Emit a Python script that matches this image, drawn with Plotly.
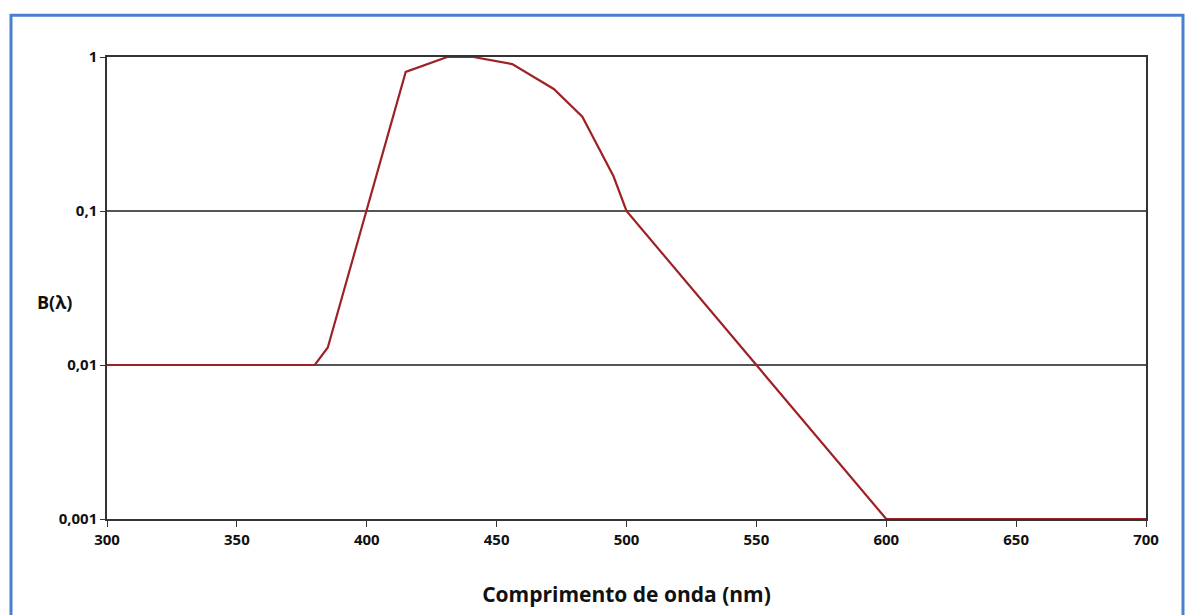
import plotly.graph_objects as go

wavelength = [300, 380, 385, 415, 431, 441, 456, 472, 483, 495, 500, 600, 700]
b_values = [0.01, 0.01, 0.013, 0.8, 1.0, 1.0, 0.9, 0.62, 0.41, 0.168, 0.1, 0.001, 0.001]

x_ticks = [300, 350, 400, 450, 500, 550, 600, 650, 700]
y_ticks = [0.001, 0.01, 0.1, 1]
y_tick_text = ["0,001", "0,01", "0,1", "1"]

FONT = "Open Sans"

fig = go.Figure()
fig.add_trace(go.Scatter(
    x=wavelength, y=b_values, mode="lines",
    line=dict(color="#9e2225", width=2.2),
    cliponaxis=False, showlegend=False, hoverinfo="skip",
))

L, R, T, B = 107, 41, 57, 94
W, H = 1187, 615
pw, ph = W - L - R, H - T - B

fig.update_layout(
    width=W, height=H,
    margin=dict(l=L, r=R, t=T, b=B),
    paper_bgcolor="white", plot_bgcolor="white",
    font=dict(family=FONT, color="#1a1a1a"),
    xaxis=dict(
        range=[300, 700], tickvals=x_ticks, ticks="outside", ticklen=6,
        tickwidth=1.2, tickcolor="#333", showline=True, linecolor="#333",
        linewidth=1.5, mirror=True, showgrid=False, zeroline=False,
        tickfont=dict(family=FONT, size=15, color="#111", weight="bold"),
        title=dict(text="<b>Comprimento de onda (nm)</b>", standoff=40,
                   font=dict(family=FONT, size=21, color="#111")),
    ),
    yaxis=dict(
        type="log", range=[-3, 0], tickvals=y_ticks, ticktext=y_tick_text,
        ticks="outside", ticklen=5, tickwidth=1.2, tickcolor="#333",
        showline=True, linecolor="#333", linewidth=1.5, mirror=True,
        showgrid=True, gridcolor="#555", gridwidth=1.5, zeroline=False,
        tickfont=dict(family=FONT, size=15, color="#111", weight="bold"),
    ),
    annotations=[dict(
        text="<b>B(λ)</b>", xref="paper", yref="paper",
        x=(54 - L) / pw, y=(H - B - 303) / ph,
        xanchor="center", yanchor="middle", showarrow=False,
        font=dict(family=FONT, size=18, color="#111"),
    )],
    shapes=[dict(
        type="rect", xref="paper", yref="paper",
        x0=(11 - L) / pw, x1=(1183 - L) / pw,
        y0=(H - B - 630) / ph, y1=(H - B - 15) / ph,
        line=dict(color="#4a7fd0", width=3), layer="below",
    )],
)

fig.write_html(
    "out.html",
    config={"displayModeBar": False},
    post_script="document.body.style.margin='0';document.body.style.overflow='hidden';",
)
